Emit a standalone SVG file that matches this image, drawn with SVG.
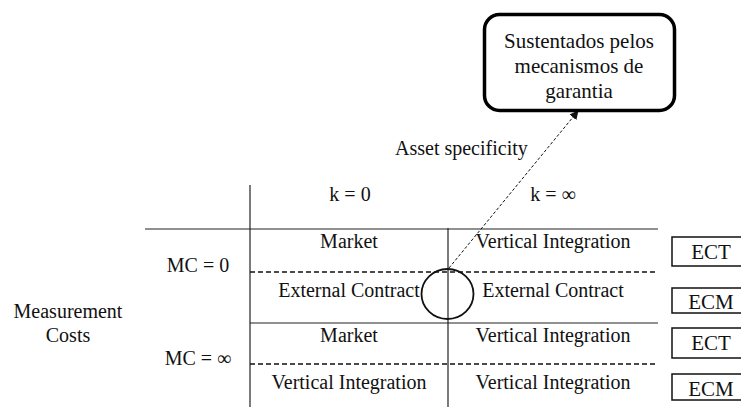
<svg xmlns="http://www.w3.org/2000/svg" width="741" height="407" viewBox="0 0 741 407">
<defs>
<style>
text{font-family:"Liberation Serif","Times New Roman",serif;font-size:20px;fill:#111;}
.c{text-anchor:middle;}
.solid{stroke:#222;stroke-width:1.2;fill:none;}
.dash{stroke:#111;stroke-width:1.5;stroke-dasharray:5,3;fill:none;}
.tag{fill:#fff;stroke:#111;stroke-width:1.5;}
.t{font-size:21px;}
</style>
<marker id="ah" viewBox="0 0 10 10" refX="9" refY="5" markerWidth="9" markerHeight="9" orient="auto" markerUnits="userSpaceOnUse">
<path d="M0,0 L10,5 L0,10 z" fill="#111"/>
</marker>
</defs>
<rect width="741" height="407" fill="#fff"/>
<g id="grid">
<line class="solid" x1="250" y1="185" x2="250" y2="407"/>
<line class="solid" x1="448" y1="228" x2="448" y2="407"/>
<line class="solid" x1="145" y1="229" x2="658" y2="229"/>
<line class="dash" x1="250" y1="272" x2="657" y2="272"/>
<line class="solid" x1="250" y1="323" x2="658" y2="323"/>
<line class="dash" x1="250" y1="364" x2="657" y2="364"/>
</g>
<g id="headers">
<text class="c" x="350" y="201">k = 0</text>
<text class="c" x="553" y="201">k = ∞</text>
<text class="c" x="198" y="272">MC = 0</text>
<text class="c" x="198" y="365">MC = ∞</text>
<text class="c" x="68" y="318">Measurement</text>
<text class="c" x="68" y="342">Costs</text>
<text x="395" y="155">Asset specificity</text>
</g>
<g id="cells">
<text class="c" x="349" y="248">Market</text>
<text class="c" x="553" y="248">Vertical Integration</text>
<text class="c" x="349" y="297">External Contract</text>
<text class="c" x="553" y="297">External Contract</text>
<text class="c" x="349" y="342">Market</text>
<text class="c" x="553" y="342">Vertical Integration</text>
<text class="c" x="349" y="389">Vertical Integration</text>
<text class="c" x="553" y="389">Vertical Integration</text>
</g>
<g id="highlight">
<ellipse cx="447.5" cy="294" rx="26" ry="25" fill="none" stroke="#111" stroke-width="1.8"/>
</g>
<g id="connectors">
<line x1="449" y1="268" x2="578" y2="111" stroke="#111" stroke-width="1" stroke-dasharray="3,2" marker-end="url(#ah)"/>
</g>
<g id="guarantee">
<rect x="484.5" y="14.5" width="190" height="96" rx="15" ry="15" fill="#fff" stroke="#000" stroke-width="3.5"/>
<text class="c t" x="579" y="48">Sustentados pelos</text>
<text class="c t" x="579" y="73">mecanismos de</text>
<text class="c t" x="579" y="98">garantia</text>
</g>
<g id="ect1"><rect class="tag" x="672" y="237" width="75" height="29"/><text class="c t" x="711" y="259">ECT</text></g>
<g id="ecm1"><rect class="tag" x="672" y="288" width="75" height="25"/><text class="c t" x="711" y="309">ECM</text></g>
<g id="ect2"><rect class="tag" x="672" y="328" width="75" height="30"/><text class="c t" x="711" y="350">ECT</text></g>
<g id="ecm2"><rect class="tag" x="672" y="374" width="75" height="26"/><text class="c t" x="711" y="396">ECM</text></g>
</svg>
